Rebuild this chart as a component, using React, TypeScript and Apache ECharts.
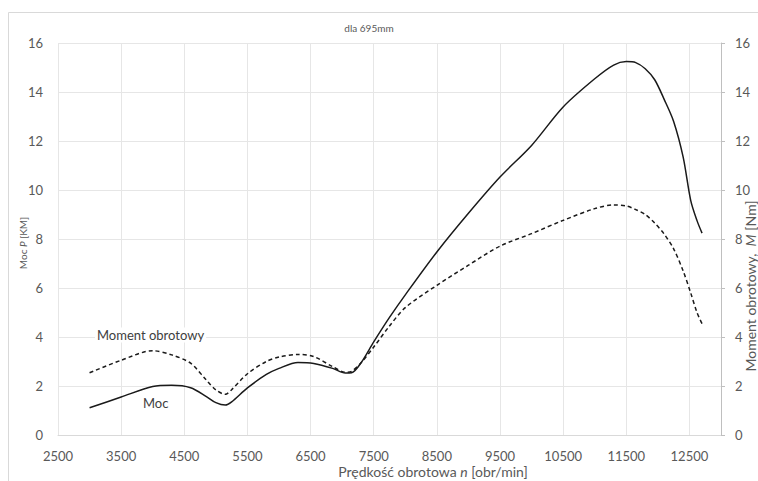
import React, { useEffect, useRef } from "react";
import * as echarts from "echarts";

const title = "dla 695mm";
const X_MIN = 2500;
const X_MAX = 13000;
const X_STEP = 1000;
const Y_MAX = 16;
const Y_STEP = 2;

const rpm = [
  3000, 3500, 4000, 4300, 4600, 4850, 5000, 5150, 5250, 5500, 5800, 6000, 6300,
  6550, 6850, 7050, 7150, 7300, 7500, 7750, 8000, 8500, 9000, 9500, 10000, 10500,
  11000, 11300, 11500, 11650, 11800, 11950, 12100, 12250, 12400, 12520, 12620, 12700,
];
const moc = [
  1.11, 1.55, 1.98, 2.03, 1.93, 1.57, 1.32, 1.22, 1.35, 1.92, 2.47, 2.72, 2.96,
  2.92, 2.72, 2.53, 2.54, 2.95, 3.8, 4.8, 5.72, 7.47, 9.05, 10.53, 11.82, 13.39,
  14.54, 15.1, 15.24, 15.2, 14.95, 14.5, 13.7, 12.8, 11.35, 9.58, 8.75, 8.24,
];
const moment = [
  2.54, 3.05, 3.44, 3.27, 2.93, 2.24, 1.84, 1.66, 1.85, 2.5, 3.0, 3.18, 3.29,
  3.2, 2.79, 2.56, 2.6, 2.95, 3.59, 4.45, 5.2, 6.11, 6.93, 7.71, 8.22, 8.76,
  9.24, 9.39, 9.35, 9.2, 9.0, 8.65, 8.2, 7.6, 6.7, 5.8, 5.0, 4.54,
];

const FONT = "Lato, 'Open Sans', sans-serif";
const LABEL_COLOR = "#595959";

export default function App() {
  const ref = useRef<HTMLDivElement>(null);

  useEffect(() => {
    if (!ref.current) return;
    const chart = echarts.init(ref.current, null, { renderer: "svg" });
    const mocData = rpm.map((r, i) => [r - X_MIN, moc[i]]);
    const momentData = rpm.map((r, i) => [r - X_MIN, moment[i]]);

    chart.setOption({
      animation: false,
      backgroundColor: "#ffffff",
      textStyle: { fontFamily: FONT },
      grid: { left: 58, right: 37, top: 43, bottom: 46 },
      xAxis: {
        type: "value",
        min: 0,
        max: X_MAX - X_MIN,
        interval: X_STEP,
        axisLine: { show: true, lineStyle: { color: "#d9d9d9", width: 1 } },
        axisTick: { show: false },
        splitLine: { show: true, lineStyle: { color: "#e6e6e6", width: 1 } },
        axisLabel: {
          color: LABEL_COLOR,
          fontSize: 13,
          fontFamily: FONT,
          margin: 14,
          showMaxLabel: false,
          formatter: (v: number) => String(v + X_MIN),
        },
      },
      yAxis: [
        {
          type: "value",
          min: 0,
          max: Y_MAX,
          interval: Y_STEP,
          position: "left",
          axisLine: { show: false },
          axisTick: { show: false },
          splitLine: { show: true, lineStyle: { color: "#e6e6e6", width: 1 } },
          axisLabel: { color: LABEL_COLOR, fontSize: 13, fontFamily: FONT, margin: 15 },
        },
        {
          type: "value",
          min: 0,
          max: Y_MAX,
          interval: Y_STEP,
          position: "right",
          axisLine: { show: true, lineStyle: { color: "#bfbfbf", width: 1 } },
          axisTick: { show: true, length: 4, lineStyle: { color: "#bfbfbf" } },
          splitLine: { show: false },
          axisLabel: { color: LABEL_COLOR, fontSize: 13, fontFamily: FONT, margin: 14 },
        },
      ],
      series: [
        {
          name: "Moc",
          type: "line",
          yAxisIndex: 0,
          data: mocData,
          smooth: 0.3,
          showSymbol: false,
          lineStyle: { color: "#1a1a1a", width: 1.5, type: "solid" },
        },
        {
          name: "Moment obrotowy",
          type: "line",
          yAxisIndex: 1,
          data: momentData,
          smooth: 0.3,
          showSymbol: false,
          lineStyle: { color: "#1a1a1a", width: 1.5, type: [4, 3] },
        },
      ],
      graphic: [
        {
          type: "rect",
          silent: true,
          z: -10,
          shape: { x: 8.5, y: 12.5, width: 800, height: 500 },
          style: { fill: "none", stroke: "#d9d9d9", lineWidth: 1 },
        },
        {
          type: "text",
          x: 369,
          y: 28,
          style: {
            text: title,
            fill: LABEL_COLOR,
            fontSize: 10,
            fontFamily: FONT,
            align: "center",
            verticalAlign: "middle",
          },
        },
        {
          type: "text",
          x: 23,
          y: 243,
          rotation: Math.PI / 2,
          style: {
            text: "Moc {i|P} [KM]",
            rich: { i: { fontStyle: "italic", fontSize: 10, fill: LABEL_COLOR, fontFamily: FONT } },
            fill: LABEL_COLOR,
            fontSize: 10,
            fontFamily: FONT,
            align: "center",
            verticalAlign: "middle",
          },
        },
        {
          type: "text",
          x: 750,
          y: 286,
          rotation: Math.PI / 2,
          style: {
            text: "Moment obrotowy,  {i|M} [Nm]",
            rich: { i: { fontStyle: "italic", fontSize: 14, fill: LABEL_COLOR, fontFamily: FONT } },
            fill: LABEL_COLOR,
            fontSize: 14,
            fontFamily: FONT,
            align: "center",
            verticalAlign: "middle",
          },
        },
        {
          type: "text",
          x: 433,
          y: 471,
          style: {
            text: "Prędkość obrotowa {i|n} [obr/min]",
            rich: { i: { fontStyle: "italic", fontSize: 14, fill: LABEL_COLOR, fontFamily: FONT } },
            fill: LABEL_COLOR,
            fontSize: 14,
            fontFamily: FONT,
            align: "center",
            verticalAlign: "middle",
          },
        },
        {
          type: "text",
          x: 95,
          y: 335,
          z: 10,
          style: {
            text: "Moment obrotowy",
            fill: "#404040",
            fontSize: 13,
            fontFamily: FONT,
            align: "left",
            verticalAlign: "middle",
            backgroundColor: "#ffffff",
            padding: [1, 2],
          },
        },
        {
          type: "text",
          x: 143,
          y: 403,
          z: 10,
          style: {
            text: "Moc",
            fill: "#404040",
            fontSize: 13,
            fontFamily: FONT,
            align: "left",
            verticalAlign: "middle",
          },
        },
      ],
    });
    return () => chart.dispose();
  }, []);

  return (
    <div
      ref={ref}
      style={{ position: "fixed", left: 0, top: 0, width: 758, height: 481 }}
    />
  );
}
